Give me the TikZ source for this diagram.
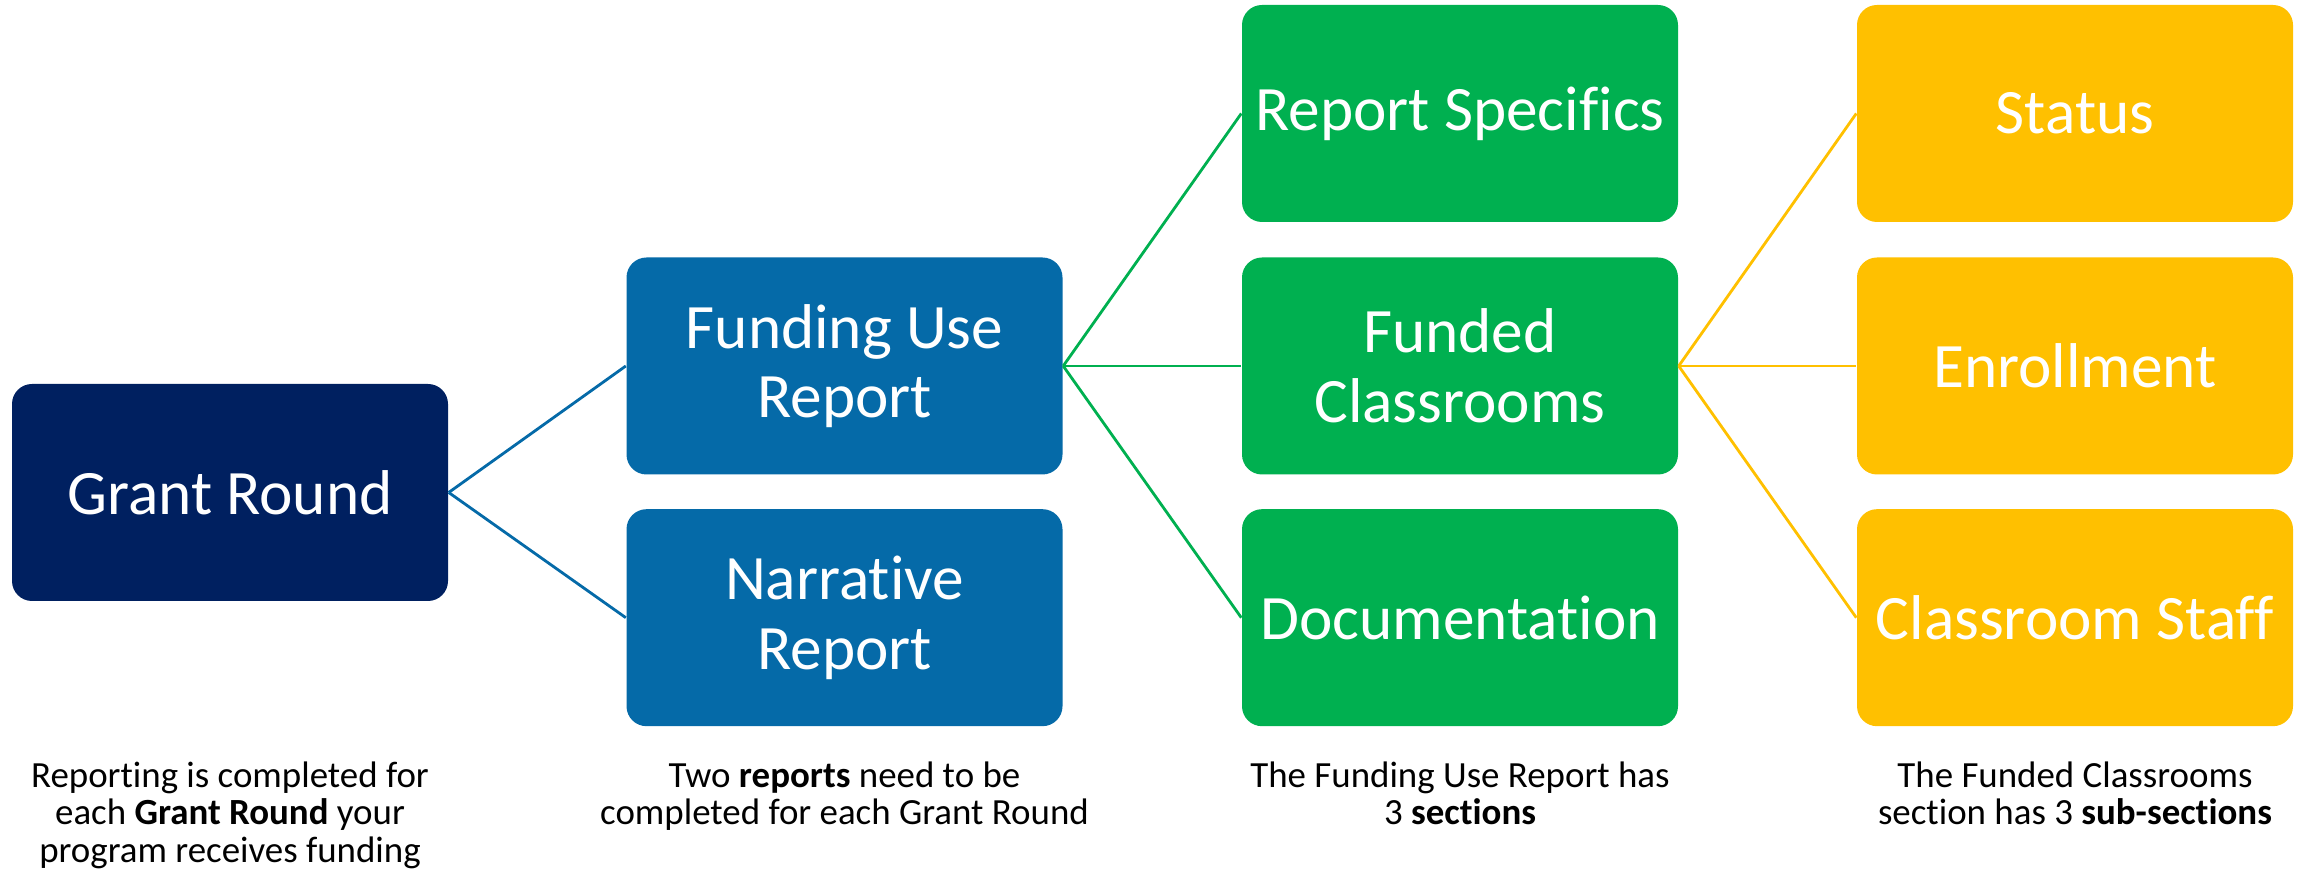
\documentclass[tikz,border=0pt]{standalone}
\usepackage{fontspec}
\setmainfont{Carlito}[RawFeature=-liga]
\definecolor{grantblue}{HTML}{002060}
\definecolor{reportblue}{HTML}{056AA8}
\definecolor{sectiongreen}{HTML}{00B050}
\definecolor{subgold}{HTML}{FFC000}

\begin{document}
\begin{tikzpicture}[
        box/.style={rounded corners=0.2cm, minimum width=4.36cm, minimum height=2.17cm,
            inner sep=0pt, align=center, text=white, font=\fontsize{18}{19.8}\selectfont},
        note/.style={anchor=north, align=center, font=\fontsize{10.5}{10.8}\selectfont},
        link/.style={line width=0.8pt}
    ]
        % Fix the page to the size of the reference
        \useasboundingbox (0,0) rectangle (23.06,8.75);

        % Level 1: the grant round
        \node[box, fill=grantblue] (grant) at (2.30,3.825) {Grant Round};

        % Level 2: the two reports
        \node[box, fill=reportblue] (fundrep) at (8.445,5.09) {Funding Use\\Report};
        \node[box, fill=reportblue] (narrep) at (8.445,2.573) {Narrative\\Report};

        % Level 3: sections of the funding use report
        \node[box, fill=sectiongreen] (specs) at (14.60,7.615) {Report Specifics};
        \node[box, fill=sectiongreen] (classes) at (14.60,5.09) {Funded\\Classrooms};
        \node[box, fill=sectiongreen] (docs) at (14.60,2.573) {Documentation};

        % Level 4: sub-sections of the funded classrooms
        \node[box, fill=subgold] (status) at (20.75,7.615) {Status};
        \node[box, fill=subgold] (enroll) at (20.75,5.09) {Enrollment};
        \node[box, fill=subgold] (staff) at (20.75,2.573) {Classroom Staff};

        % Connectors
        \draw[link, reportblue] (grant.east) -- (fundrep.west);
        \draw[link, reportblue] (grant.east) -- (narrep.west);
        \draw[link, sectiongreen] (fundrep.east) -- (specs.west);
        \draw[link, sectiongreen] (fundrep.east) -- (classes.west);
        \draw[link, sectiongreen] (fundrep.east) -- (docs.west);
        \draw[link, subgold] (classes.east) -- (status.west);
        \draw[link, subgold] (classes.east) -- (enroll.west);
        \draw[link, subgold] (classes.east) -- (staff.west);

        % Notes under each column
        \node[note] (note1) at (2.30,1.26) {Reporting is completed for\\each \textbf{Grant Round} your\\program receives funding};
        \node[note] (note2) at (8.445,1.26) {Two \textbf{reports} need to be\\completed for each Grant Round};
        \node[note] (note3) at (14.60,1.26) {The Funding Use Report has\\3 \textbf{sections}};
        \node[note] (note4) at (20.75,1.26) {The Funded Classrooms\\section has 3 \textbf{sub-sections}};
    \end{tikzpicture}
\end{document}
